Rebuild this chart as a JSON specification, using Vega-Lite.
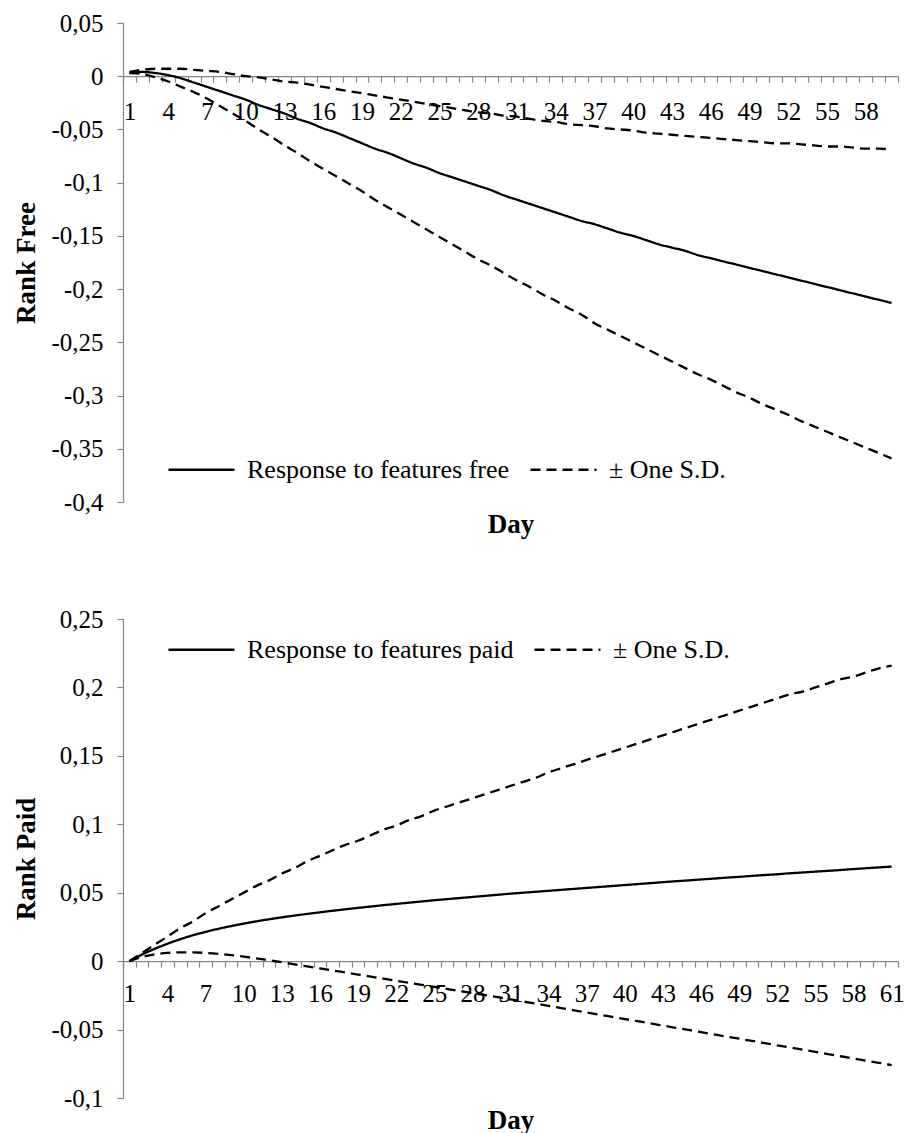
{
"$schema": "https://vega.github.io/schema/vega-lite/v6.json",
"padding": {"left": 12, "top": 11, "right": 0, "bottom": 0},
"background": "white",
"spacing": 70,
"config": {
  "view": {"stroke": null},
  "font": "Liberation Serif, Times New Roman, Times, serif",
  "line": {"interpolate": "monotone", "color": "black", "strokeWidth": 2.3},
  "axis": {"domainColor": "#868686", "tickColor": "#868686", "domainWidth": 1.2, "tickWidth": 1.2, "grid": false, "labelFont": "Liberation Serif, Times New Roman, Times, serif", "labelFontSize": 25, "labelColor": "black", "titleFont": "Liberation Serif, Times New Roman, Times, serif", "titleFontSize": 27, "titleFontWeight": "bold", "titleColor": "black"},
  "legend": {"orient": "none", "direction": "horizontal", "symbolType": "stroke", "symbolSize": 4356, "symbolStrokeWidth": 2.3, "symbolStrokeColor": "black", "labelFont": "Liberation Serif, Times New Roman, Times, serif", "labelFontSize": 26, "labelColor": "black", "labelOffset": 11, "labelLimit": 500, "columnPadding": 15, "title": null, "padding": 0}
},
"datasets": {
  "free": [
{"day":1,"resp":0.003,"hi":0.004,"lo":0.003},{"day":2,"resp":0.004,"hi":0.006,"lo":0.002},{"day":3,"resp":0.003,"hi":0.007,"lo":-0.001},{"day":4,"resp":0.001,"hi":0.007,"lo":-0.005},{"day":5,"resp":-0.002,"hi":0.007,"lo":-0.010},{"day":6,"resp":-0.006,"hi":0.006,"lo":-0.015},{"day":7,"resp":-0.010,"hi":0.005,"lo":-0.021},{"day":8,"resp":-0.014,"hi":0.004,"lo":-0.028},{"day":9,"resp":-0.018,"hi":0.002,"lo":-0.035},{"day":10,"resp":-0.022,"hi":0.000,"lo":-0.042},
{"day":11,"resp":-0.027,"hi":-0.001,"lo":-0.050},{"day":12,"resp":-0.031,"hi":-0.003,"lo":-0.057},{"day":13,"resp":-0.035,"hi":-0.005,"lo":-0.065},{"day":14,"resp":-0.040,"hi":-0.006,"lo":-0.072},{"day":15,"resp":-0.044,"hi":-0.008,"lo":-0.080},{"day":16,"resp":-0.049,"hi":-0.010,"lo":-0.087},{"day":17,"resp":-0.053,"hi":-0.012,"lo":-0.094},{"day":18,"resp":-0.058,"hi":-0.014,"lo":-0.101},{"day":19,"resp":-0.063,"hi":-0.016,"lo":-0.108},{"day":20,"resp":-0.068,"hi":-0.018,"lo":-0.116},
{"day":21,"resp":-0.072,"hi":-0.020,"lo":-0.123},{"day":22,"resp":-0.077,"hi":-0.022,"lo":-0.130},{"day":23,"resp":-0.082,"hi":-0.024,"lo":-0.137},{"day":24,"resp":-0.086,"hi":-0.026,"lo":-0.144},{"day":25,"resp":-0.091,"hi":-0.028,"lo":-0.151},{"day":26,"resp":-0.095,"hi":-0.030,"lo":-0.158},{"day":27,"resp":-0.099,"hi":-0.032,"lo":-0.165},{"day":28,"resp":-0.103,"hi":-0.034,"lo":-0.172},{"day":29,"resp":-0.107,"hi":-0.035,"lo":-0.178},{"day":30,"resp":-0.112,"hi":-0.037,"lo":-0.185},
{"day":31,"resp":-0.116,"hi":-0.038,"lo":-0.192},{"day":32,"resp":-0.120,"hi":-0.040,"lo":-0.198},{"day":33,"resp":-0.124,"hi":-0.042,"lo":-0.205},{"day":34,"resp":-0.128,"hi":-0.043,"lo":-0.211},{"day":35,"resp":-0.132,"hi":-0.045,"lo":-0.218},{"day":36,"resp":-0.136,"hi":-0.046,"lo":-0.224},{"day":37,"resp":-0.139,"hi":-0.047,"lo":-0.232},{"day":38,"resp":-0.143,"hi":-0.049,"lo":-0.238},{"day":39,"resp":-0.147,"hi":-0.050,"lo":-0.244},{"day":40,"resp":-0.150,"hi":-0.051,"lo":-0.250},
{"day":41,"resp":-0.154,"hi":-0.053,"lo":-0.256},{"day":42,"resp":-0.158,"hi":-0.054,"lo":-0.262},{"day":43,"resp":-0.161,"hi":-0.055,"lo":-0.268},{"day":44,"resp":-0.164,"hi":-0.056,"lo":-0.274},{"day":45,"resp":-0.168,"hi":-0.057,"lo":-0.280},{"day":46,"resp":-0.171,"hi":-0.058,"lo":-0.285},{"day":47,"resp":-0.174,"hi":-0.059,"lo":-0.291},{"day":48,"resp":-0.177,"hi":-0.060,"lo":-0.297},{"day":49,"resp":-0.180,"hi":-0.061,"lo":-0.302},{"day":50,"resp":-0.183,"hi":-0.062,"lo":-0.308},
{"day":51,"resp":-0.186,"hi":-0.063,"lo":-0.313},{"day":52,"resp":-0.189,"hi":-0.063,"lo":-0.318},{"day":53,"resp":-0.192,"hi":-0.064,"lo":-0.324},{"day":54,"resp":-0.195,"hi":-0.065,"lo":-0.329},{"day":55,"resp":-0.198,"hi":-0.066,"lo":-0.334},{"day":56,"resp":-0.201,"hi":-0.066,"lo":-0.339},{"day":57,"resp":-0.204,"hi":-0.067,"lo":-0.344},{"day":58,"resp":-0.207,"hi":-0.068,"lo":-0.349},{"day":59,"resp":-0.210,"hi":-0.068,"lo":-0.354},{"day":60,"resp":-0.213,"hi":-0.069,"lo":-0.359}
  ],
  "paid": [
{"day":1,"resp":0,"hi":0,"lo":0},{"day":2,"resp":0.0048,"hi":0.006,"lo":0.0030},{"day":3,"resp":0.0090,"hi":0.012,"lo":0.0050},{"day":4,"resp":0.0127,"hi":0.018,"lo":0.0060},{"day":5,"resp":0.0160,"hi":0.024,"lo":0.0064},{"day":6,"resp":0.0189,"hi":0.029,"lo":0.0064},{"day":7,"resp":0.0214,"hi":0.035,"lo":0.0060},{"day":8,"resp":0.0236,"hi":0.040,"lo":0.0053},{"day":9,"resp":0.0256,"hi":0.045,"lo":0.0044},{"day":10,"resp":0.0274,"hi":0.050,"lo":0.0033},
{"day":11,"resp":0.0291,"hi":0.055,"lo":0.0020},{"day":12,"resp":0.0306,"hi":0.059,"lo":0.0006},{"day":13,"resp":0.0320,"hi":0.064,"lo":-0.0008},{"day":14,"resp":0.0333,"hi":0.068,"lo":-0.0023},{"day":15,"resp":0.0345,"hi":0.073,"lo":-0.0038},{"day":16,"resp":0.0357,"hi":0.077,"lo":-0.0053},{"day":17,"resp":0.0368,"hi":0.081,"lo":-0.0068},{"day":18,"resp":0.0379,"hi":0.085,"lo":-0.0083},{"day":19,"resp":0.0389,"hi":0.088,"lo":-0.0098},{"day":20,"resp":0.0399,"hi":0.092,"lo":-0.0113},
{"day":21,"resp":0.0409,"hi":0.096,"lo":-0.0128},{"day":22,"resp":0.0418,"hi":0.099,"lo":-0.0143},{"day":23,"resp":0.0427,"hi":0.103,"lo":-0.0158},{"day":24,"resp":0.0436,"hi":0.106,"lo":-0.0173},{"day":25,"resp":0.0445,"hi":0.110,"lo":-0.0188},{"day":26,"resp":0.0453,"hi":0.113,"lo":-0.0203},{"day":27,"resp":0.0461,"hi":0.116,"lo":-0.0218},{"day":28,"resp":0.0469,"hi":0.119,"lo":-0.0233},{"day":29,"resp":0.0477,"hi":0.122,"lo":-0.0248},{"day":30,"resp":0.0485,"hi":0.125,"lo":-0.0263},
{"day":31,"resp":0.0493,"hi":0.128,"lo":-0.0279},{"day":32,"resp":0.0500,"hi":0.131,"lo":-0.0295},{"day":33,"resp":0.0507,"hi":0.134,"lo":-0.0311},{"day":34,"resp":0.0514,"hi":0.138,"lo":-0.0327},{"day":35,"resp":0.0521,"hi":0.141,"lo":-0.0343},{"day":36,"resp":0.0528,"hi":0.144,"lo":-0.0359},{"day":37,"resp":0.0535,"hi":0.147,"lo":-0.0375},{"day":38,"resp":0.0542,"hi":0.150,"lo":-0.0391},{"day":39,"resp":0.0549,"hi":0.153,"lo":-0.0407},{"day":40,"resp":0.0556,"hi":0.156,"lo":-0.0423},
{"day":41,"resp":0.0563,"hi":0.159,"lo":-0.0439},{"day":42,"resp":0.0570,"hi":0.162,"lo":-0.0455},{"day":43,"resp":0.0577,"hi":0.165,"lo":-0.0471},{"day":44,"resp":0.0584,"hi":0.168,"lo":-0.0487},{"day":45,"resp":0.0590,"hi":0.171,"lo":-0.0503},{"day":46,"resp":0.0597,"hi":0.174,"lo":-0.0519},{"day":47,"resp":0.0603,"hi":0.177,"lo":-0.0535},{"day":48,"resp":0.0610,"hi":0.180,"lo":-0.0551},{"day":49,"resp":0.0616,"hi":0.183,"lo":-0.0567},{"day":50,"resp":0.0623,"hi":0.186,"lo":-0.0583},
{"day":51,"resp":0.0629,"hi":0.189,"lo":-0.0599},{"day":52,"resp":0.0635,"hi":0.192,"lo":-0.0615},{"day":53,"resp":0.0642,"hi":0.195,"lo":-0.0631},{"day":54,"resp":0.0648,"hi":0.197,"lo":-0.0647},{"day":55,"resp":0.0654,"hi":0.200,"lo":-0.0663},{"day":56,"resp":0.0660,"hi":0.203,"lo":-0.0679},{"day":57,"resp":0.0666,"hi":0.206,"lo":-0.0695},{"day":58,"resp":0.0673,"hi":0.208,"lo":-0.0711},{"day":59,"resp":0.0679,"hi":0.211,"lo":-0.0727},{"day":60,"resp":0.0685,"hi":0.214,"lo":-0.0743},{"day":61,"resp":0.0691,"hi":0.216,"lo":-0.0759}
  ]
},
"resolve": {"scale": {"strokeDash": "independent"}, "legend": {"strokeDash": "independent"}},
"vconcat": [
  {
    "width": 775, "height": 479,
    "data": {"name": "free"},
    "resolve": {"axis": {"x": "independent"}},
    "layer": [
      {
        "mark": {"type": "line"},
        "encoding": {
          "x": {"field": "day", "type": "quantitative", "scale": {"domain": [0.5, 60.5], "nice": false, "zero": false},
            "axis": {"orient": "bottom", "offset": -425.8, "zindex": 0, "title": null, "tickSize": 6, "labelPadding": 17, "labelOffset": 6.46, "labelOverlap": false, "labelFlush": false,
              "values": [0.5,1.5,2.5,3.5,4.5,5.5,6.5,7.5,8.5,9.5,10.5,11.5,12.5,13.5,14.5,15.5,16.5,17.5,18.5,19.5,20.5,21.5,22.5,23.5,24.5,25.5,26.5,27.5,28.5,29.5,30.5,31.5,32.5,33.5,34.5,35.5,36.5,37.5,38.5,39.5,40.5,41.5,42.5,43.5,44.5,45.5,46.5,47.5,48.5,49.5,50.5,51.5,52.5,53.5,54.5,55.5,56.5,57.5,58.5,59.5,60.5],
              "labelExpr": "(datum.value - 0.5) % 3 == 0 && datum.value < 60 ? toString(datum.value + 0.5) : ''"}},
          "y": {"field": "resp", "type": "quantitative", "title": "Rank Free", "scale": {"domain": [-0.4, 0.05], "nice": false, "zero": false},
            "axis": {"values": [-0.4,-0.35,-0.3,-0.25,-0.2,-0.15,-0.1,-0.05,0,0.05], "tickSize": 6, "labelPadding": 14, "titlePadding": 10,
              "labelExpr": "replace(replace(format(datum.value, '.2~f'), '.', ','), '−', '-')"}},
          "strokeDash": {"datum": "Response to features free", "type": "nominal",
            "scale": {"domain": ["Response to features free", "± One S.D."], "range": [[1, 0], [10, 6]]},
            "legend": {"legendX": 44, "legendY": 412}}
        }
      },
      {
        "mark": {"type": "line"},
        "encoding": {
          "x": {"field": "day", "type": "quantitative", "axis": {"orient": "bottom", "title": "Day", "domain": false, "ticks": false, "labels": false, "titlePadding": 9}},
          "y": {"field": "hi", "type": "quantitative", "title": "Rank Free"},
          "strokeDash": {"datum": "± One S.D.", "type": "nominal"}
        }
      },
      {
        "mark": {"type": "line"},
        "encoding": {
          "x": {"field": "day", "type": "quantitative", "axis": null},
          "y": {"field": "lo", "type": "quantitative", "title": "Rank Free"},
          "strokeDash": {"datum": "± One S.D.", "type": "nominal"}
        }
      }
    ]
  },
  {
    "width": 775, "height": 479,
    "data": {"name": "paid"},
    "resolve": {"axis": {"x": "independent"}},
    "layer": [
      {
        "mark": {"type": "line"},
        "encoding": {
          "x": {"field": "day", "type": "quantitative", "scale": {"domain": [0.5, 61.5], "nice": false, "zero": false},
            "axis": {"orient": "bottom", "offset": -136.9, "zindex": 0, "title": null, "tickSize": 6, "labelPadding": 14, "labelOffset": 6.35, "labelOverlap": false, "labelFlush": false,
              "values": [0.5,1.5,2.5,3.5,4.5,5.5,6.5,7.5,8.5,9.5,10.5,11.5,12.5,13.5,14.5,15.5,16.5,17.5,18.5,19.5,20.5,21.5,22.5,23.5,24.5,25.5,26.5,27.5,28.5,29.5,30.5,31.5,32.5,33.5,34.5,35.5,36.5,37.5,38.5,39.5,40.5,41.5,42.5,43.5,44.5,45.5,46.5,47.5,48.5,49.5,50.5,51.5,52.5,53.5,54.5,55.5,56.5,57.5,58.5,59.5,60.5,61.5],
              "labelExpr": "(datum.value - 0.5) % 3 == 0 && datum.value < 61 ? toString(datum.value + 0.5) : ''"}},
          "y": {"field": "resp", "type": "quantitative", "title": "Rank Paid", "scale": {"domain": [-0.1, 0.25], "nice": false, "zero": false},
            "axis": {"values": [-0.1,-0.05,0,0.05,0.1,0.15,0.2,0.25], "tickSize": 6, "labelPadding": 14, "titlePadding": 10,
              "labelExpr": "replace(replace(format(datum.value, '.2~f'), '.', ','), '−', '-')"}},
          "strokeDash": {"datum": "Response to features paid", "type": "nominal",
            "scale": {"domain": ["Response to features paid", "± One S.D."], "range": [[1, 0], [10, 6]]},
            "legend": {"legendX": 44, "legendY": -4}}
        }
      },
      {
        "mark": {"type": "line"},
        "encoding": {
          "x": {"field": "day", "type": "quantitative", "axis": {"orient": "bottom", "title": "Day", "domain": false, "ticks": false, "labels": false, "titlePadding": 9}},
          "y": {"field": "hi", "type": "quantitative", "title": "Rank Paid"},
          "strokeDash": {"datum": "± One S.D.", "type": "nominal"}
        }
      },
      {
        "mark": {"type": "line"},
        "encoding": {
          "x": {"field": "day", "type": "quantitative", "axis": null},
          "y": {"field": "lo", "type": "quantitative", "title": "Rank Paid"},
          "strokeDash": {"datum": "± One S.D.", "type": "nominal"}
        }
      }
    ]
  }
]
}
